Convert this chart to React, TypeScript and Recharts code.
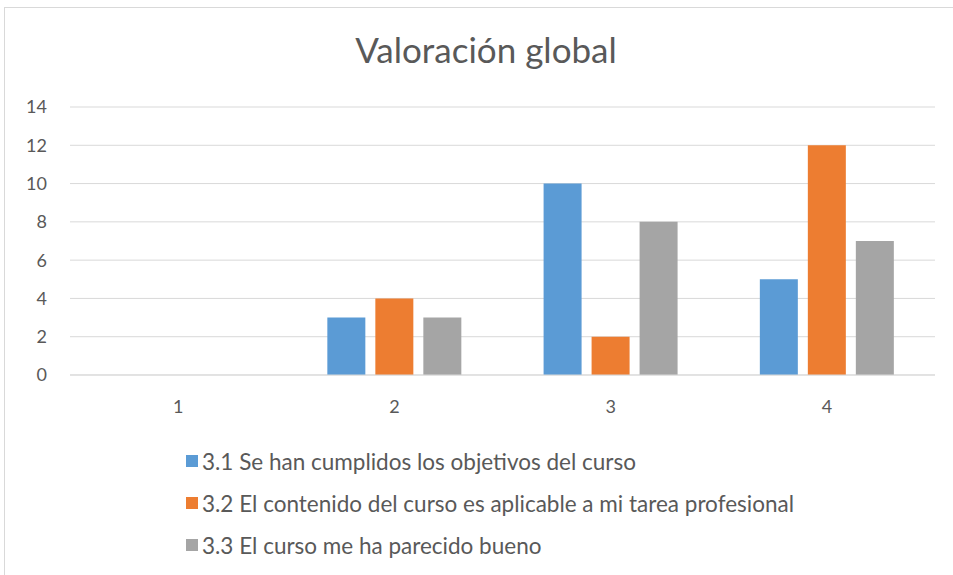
import React from "react";
import { BarChart, Bar, XAxis, YAxis, CartesianGrid, Legend } from "recharts";

const categories = ["1", "2", "3", "4"];
const objetivos = [0, 3, 10, 5];
const aplicable = [0, 4, 2, 12];
const bueno = [0, 3, 8, 7];
const yTicks = [0, 2, 4, 6, 8, 10, 12, 14];

const seriesNames = [
  "3.1 Se han cumplidos los objetivos del curso",
  "3.2 El contenido del curso es aplicable a mi tarea profesional",
  "3.3 El curso me ha parecido bueno",
];
const colors = ["#5b9bd5", "#ed7d31", "#a5a5a5"];

const data = categories.map((c, i) => ({
  cat: c,
  s1: objetivos[i],
  s2: aplicable[i],
  s3: bueno[i],
}));

const FONT = "Lato, 'Open Sans', sans-serif";

const LegendList = () => (
  <div style={{ fontFamily: FONT, fontSize: 22.5, color: "#595959" }}>
    {seriesNames.map((n, i) => (
      <div key={n} style={{ display: "flex", alignItems: "center", height: 42 }}>
        <span style={{ width: 12, height: 12, background: colors[i], marginRight: 4, display: "inline-block" }} />
        <span>{n}</span>
      </div>
    ))}
  </div>
);

const App = () => {
  return (
    <div style={{ position: "absolute", left: 0, top: 0, width: 953, height: 575, background: "#fff", overflow: "hidden" }}>
      <div style={{ position: "absolute", left: 4, top: 7, width: 960, height: 600, border: "1px solid #d9d9d9" }} />
      <div style={{ position: "absolute", left: 0, top: 28, width: 972, textAlign: "center", fontFamily: FONT, fontSize: 35, color: "#595959" }}>
        Valoración global
      </div>
      <div style={{ position: "absolute", left: 0, top: 0 }}>
        <BarChart
          width={953}
          height={575}
          data={data}
          margin={{ top: 107, right: 18, left: 0, bottom: 150 }}
          barGap={10}
          barCategoryGap="19%"
        >
          <CartesianGrid vertical={false} stroke="#d9d9d9" />
          <XAxis
            dataKey="cat"
            height={50}
            stroke="#d9d9d9"
            tickLine={false}
            tickSize={0}
            tickMargin={25}
            tick={{ fill: "#595959", fontSize: 18, fontFamily: FONT }}
          />
          <YAxis
            width={70}
            domain={[0, 14]}
            ticks={yTicks}
            axisLine={false}
            tickLine={false}
            tickSize={0}
            tickMargin={23}
            tick={{ fill: "#595959", fontSize: 18, fontFamily: FONT }}
          />
          <Legend
            layout="vertical"
            align="center"
            verticalAlign="middle"
            wrapperStyle={{ left: 186, top: 440, width: 740 }}
            content={() => <LegendList />}
          />
          <Bar dataKey="s1" name={seriesNames[0]} fill={colors[0]} isAnimationActive={false} />
          <Bar dataKey="s2" name={seriesNames[1]} fill={colors[1]} isAnimationActive={false} />
          <Bar dataKey="s3" name={seriesNames[2]} fill={colors[2]} isAnimationActive={false} />
        </BarChart>
      </div>
    </div>
  );
};

export default App;
